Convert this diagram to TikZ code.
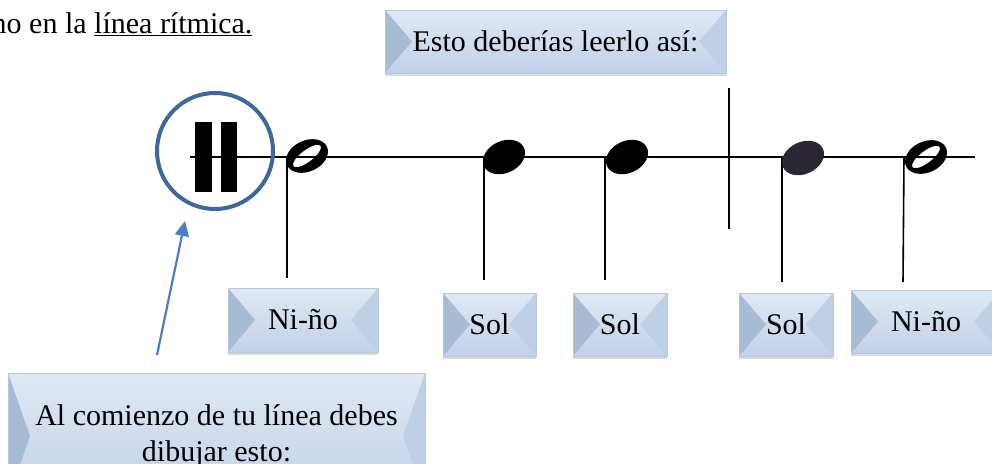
\documentclass[tikz,border=0pt]{standalone}
\usepackage{fontspec}
\setmainfont{Liberation Serif}
\usetikzlibrary{arrows.meta,shadows,calc}
\definecolor{ringblue}{HTML}{41679A}
\definecolor{arrowblue}{HTML}{4A7EBF}
\definecolor{boxedge}{HTML}{B5C7DF}
\definecolor{boxtop}{HTML}{E0E9F4}
\definecolor{boxbot}{HTML}{C0D1E9}
\definecolor{facetleft}{HTML}{A8BBD5}
\definecolor{facetright}{HTML}{BFD0E6}
\definecolor{notepurple}{HTML}{2B2633}
\tikzset{
  bevel inset/.store in=\bevelinset, bevel inset=27pt,
  bevelbox/.style={draw=boxedge, line width=0.8pt, top color=boxtop, bottom color=boxbot,
    inner sep=0pt, align=center, font=\fontsize{30}{36}\selectfont,
    drop shadow={shadow xshift=0pt, shadow yshift=-3pt, opacity=0.3},
    path picture={
      \fill[facetleft] (path picture bounding box.north west) -- ([xshift=\bevelinset]path picture bounding box.west) -- (path picture bounding box.south west) -- cycle;
      \fill[facetright] (path picture bounding box.north east) -- ([xshift=-\bevelinset]path picture bounding box.east) -- (path picture bounding box.south east) -- cycle;
    }},
  staffline/.style={line width=2pt, black},
  stemline/.style={line width=1.6pt, black},
  ring/.style={draw=ringblue, line width=4pt},
  pointer/.style={draw=arrowblue, line width=2.2pt, -{Triangle[length=15pt,width=14pt]}},
  plaintext/.style={font=\fontsize{30}{35}\selectfont, inner sep=0pt},
}
\begin{document}
\begin{tikzpicture}[x=1pt, y=-1pt]
\useasboundingbox (0,0) rectangle (992,463);
\clip (0,0) rectangle (992,463);

% top-left text
\node[plaintext, anchor=base west] (intro) at (-8.5,33) {no en la \underline{línea rítmica.}};

% header box
\node[bevelbox, minimum width=341pt, minimum height=63pt] (esto) at (555.5,41.5) {Esto deberías leerlo así:};

% staff
\coordinate (staffL) at (190,157);
\coordinate (staffR) at (975,157);
\draw[staffline] (staffL) -- (staffR);
\coordinate (barT) at (729,88);
\coordinate (barB) at (729,229);
\draw[line width=1.8pt] (barT) -- (barB);

% double bar sign and ring
\fill[black] (195,122) rectangle (212,192);
\fill[black] (221,122) rectangle (237,192);
\node[ring, circle, minimum size=116pt, inner sep=0pt] (ringc) at (215,151) {};

% stems
\coordinate (s1t) at (287,157); \coordinate (s1b) at (287,278);
\coordinate (s2t) at (484,157); \coordinate (s2b) at (484,280);
\coordinate (s3t) at (605,157); \coordinate (s3b) at (605,280);
\coordinate (s4t) at (782,158); \coordinate (s4b) at (782,282);
\coordinate (s5t) at (904,157); \coordinate (s5b) at (903,282);
\foreach \a in {1,...,5}{\draw[stemline] (s\a t) -- (s\a b);}

% note heads
\fill[black, even odd rule, shift={(307,156)}, rotate=25]
  (0,0) ellipse [x radius=22, y radius=15.5]
  {[rotate=12] (0,0) ellipse [x radius=17, y radius=6]};
\fill[black, shift={(504,157)}, rotate=25] (0,0) ellipse [x radius=22, y radius=16];
\fill[black, shift={(627,157)}, rotate=25] (0,0) ellipse [x radius=22, y radius=16];
\fill[notepurple, shift={(803,158)}, rotate=25] (0,0) ellipse [x radius=22, y radius=16];
\fill[black, even odd rule, shift={(926,157)}, rotate=25]
  (0,0) ellipse [x radius=22, y radius=15.5]
  {[rotate=12] (0,0) ellipse [x radius=17, y radius=6]};

% syllable boxes
\node[bevelbox, minimum width=150pt, minimum height=64pt] (nino1) at (303,320) {Ni-ño};
\node[bevelbox, minimum width=93pt, minimum height=63pt] (sol1) at (489.5,324.5) {Sol};
\node[bevelbox, minimum width=94pt, minimum height=63pt] (sol2) at (620,324.5) {Sol};
\node[bevelbox, minimum width=94pt, minimum height=63pt] (sol3) at (786,324.5) {Sol};
\node[bevelbox, minimum width=150pt, minimum height=63pt] (nino2) at (926,321.5) {Ni-ño};

% bottom box
\node[bevelbox, bevel inset=22pt, minimum width=417pt, minimum height=126pt] (al) at (216.5,436) {Al comienzo de tu línea debes\\dibujar esto:};

% arrow
\coordinate (arrS) at (157,355);
\coordinate (arrE) at (185,221);
\draw[pointer] (arrS) -- (arrE);
\end{tikzpicture}
\end{document}
